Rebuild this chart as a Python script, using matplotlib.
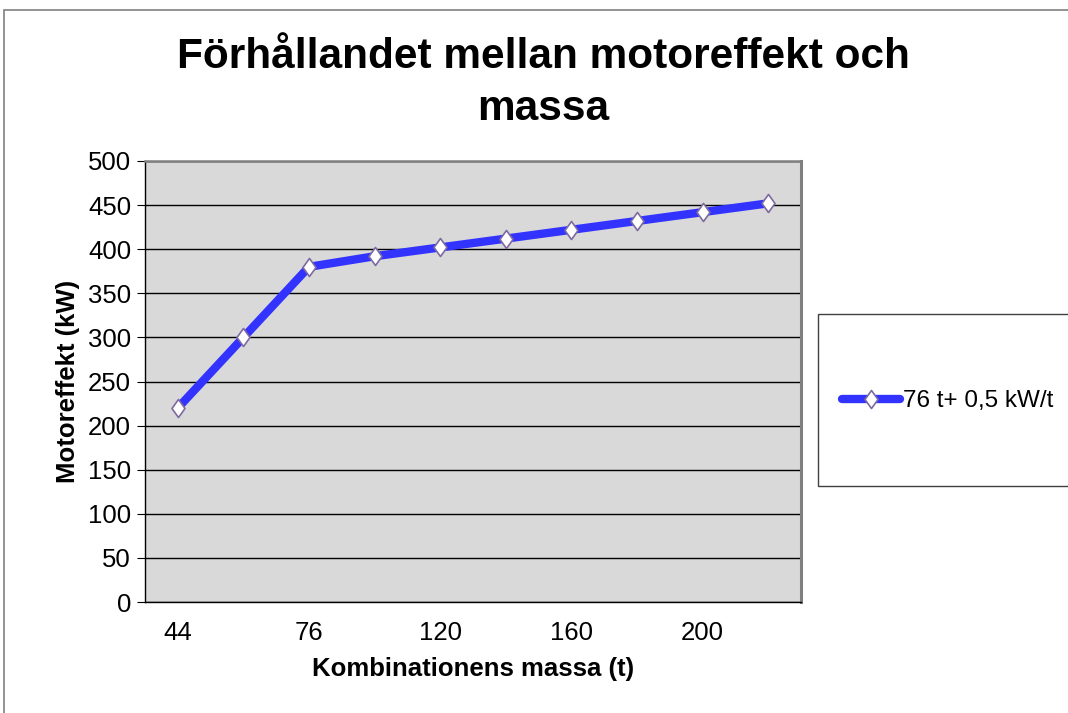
import matplotlib.pyplot as plt
from matplotlib.patches import Rectangle
from matplotlib.path import Path

# category axis (t) and engine power (kW)
massa = ["44", "60", "76", "100", "120", "140", "160", "180", "200", "220"]
effekt = [220, 300, 380, 392, 402, 412, 422, 432, 442, 452]
serie_namn = "76 t+ 0,5 kW/t"

plt.rcParams['font.family'] = ['Liberation Sans', 'DejaVu Sans']

fig = plt.figure(figsize=(10.68, 7.13), dpi=100)
W, H = 1068, 713

# outer chart border
fig.patches.append(Rectangle((4 / W, -0.05), 1.1, 1.05 - 10 / H, transform=fig.transFigure,
                             fill=False, edgecolor='#808080', linewidth=1.2, zorder=-2))

ax = fig.add_axes([145 / W, 1 - 602 / H, 656 / W, 441 / H])
ax.set_facecolor('#D9D9D9')

# slightly narrow diamond like the Excel marker
ruta = Path([(0, 1), (0.72, 0), (0, -1), (-0.72, 0), (0, 1)],
            [Path.MOVETO, Path.LINETO, Path.LINETO, Path.LINETO, Path.CLOSEPOLY])

x = list(range(len(massa)))
ax.plot(x, effekt, color='#3333FF', linewidth=6, solid_capstyle='round',
        marker=ruta, markersize=13, markerfacecolor='white', markeredgecolor='#7E6AA0',
        markeredgewidth=1.2, label=serie_namn, zorder=3)

ax.set_xlim(-0.5, len(massa) - 0.5)
ax.set_ylim(0, 500)
ax.set_yticks(range(0, 501, 50))
ax.set_xticks(x[::2])
ax.set_xticklabels(massa[::2])
ax.yaxis.grid(True, color='black', linewidth=1)
ax.set_axisbelow(True)
ax.tick_params(axis='y', labelsize=18.5, length=6, direction='out', pad=4)
ax.tick_params(axis='x', labelsize=18.5, length=0, pad=14)

ax.spines['top'].set_color('#808080')
ax.spines['top'].set_linewidth(1.8)
ax.spines['right'].set_color('#808080')
ax.spines['right'].set_linewidth(2.2)
for s in ['left', 'bottom']:
    ax.spines[s].set_color('black')
    ax.spines[s].set_linewidth(1)

ax.set_xlabel("Kombinationens massa (t)", fontsize=18.5, fontweight='bold', labelpad=8)
ax.set_ylabel("Motoreffekt (kW)", fontsize=18.5, fontweight='bold', labelpad=6)

fig.text(543 / W, 1 - 83 / H, "Förhållandet mellan motoreffekt och\nmassa",
         ha='center', va='center', fontsize=30.5, fontweight='bold', linespacing=1.4)

# legend box, clipped at the right edge
fig.patches.append(Rectangle((818 / W, 1 - 486 / H), 0.3, 172 / H, transform=fig.transFigure,
                             facecolor='white', edgecolor='#404040', linewidth=1, zorder=-1))
leg = ax.legend(loc='center left', bbox_to_anchor=(842 / W, 1 - 401 / H),
                bbox_transform=fig.transFigure, frameon=False, fontsize=17.5,
                handlelength=2.4, handletextpad=0.1, borderaxespad=0, borderpad=0)

fig.savefig("out.png", dpi=100)
